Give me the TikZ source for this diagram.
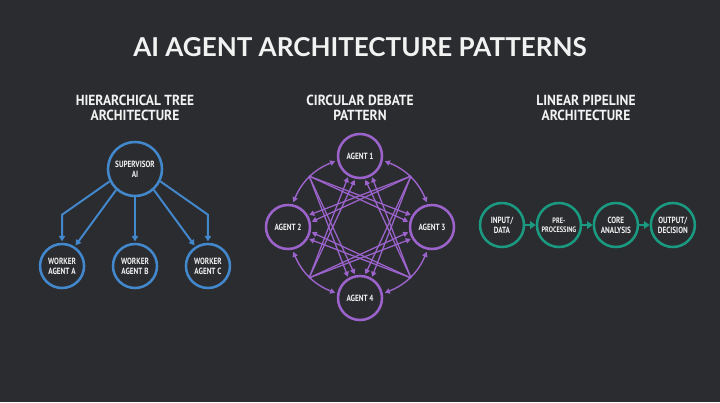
\documentclass[tikz,border=0pt]{standalone}
\usepackage{fontspec}
\setmainfont{PT Sans}
\newfontfamily\titlefont{Lato}
\newfontfamily\headfont[FakeStretch=0.92]{PT Sans}
\newfontfamily\labfont[FakeStretch=0.8]{PT Sans}
\usepackage{tikz}
\usetikzlibrary{positioning,arrows.meta,calc}
\definecolor{bg}{HTML}{2A2C2F}
\definecolor{treeblue}{HTML}{4388CC}
\definecolor{debpurple}{HTML}{9B63CB}
\definecolor{pipeteal}{HTML}{1B9A82}
\definecolor{txt}{HTML}{F2F2F2}
\tikzset{
  heading/.style={font=\headfont\bfseries\fontsize{10.4}{10.8}\selectfont, text=txt, align=center, inner sep=0pt},
  treenode/.style={circle, draw=treeblue, line width=1.8pt, minimum size=1.1cm, inner sep=0pt,
                   font=\labfont\bfseries\fontsize{6.4}{7.2}\selectfont, text=txt, align=center},
  agent/.style={circle, draw=debpurple, line width=1.8pt, minimum size=1.1cm, inner sep=0pt,
                font=\labfont\bfseries\fontsize{6.4}{7.2}\selectfont, text=txt, align=center},
  stage/.style={circle, draw=pipeteal, line width=1.8pt, minimum size=1.1cm, inner sep=0pt,
                font=\labfont\bfseries\fontsize{6.4}{7.2}\selectfont, text=txt, align=center},
  tarr/.style={-{Triangle[length=3.8pt, width=4.4pt]}, line width=1.4pt, draw=treeblue, shorten >=1pt},
  darr/.style={-{Triangle[length=3.6pt, width=3.8pt]}, line width=0.9pt, draw=debpurple, shorten >=0.8pt},
  darc/.style={{Triangle[length=3.6pt, width=3.8pt]}-{Triangle[length=3.6pt, width=3.8pt]},
               line width=1pt, draw=debpurple, shorten <=1.5pt, shorten >=1.5pt},
  parr/.style={-{Triangle[length=4pt, width=5.4pt]}, line width=2pt, draw=pipeteal},
}

\begin{document}
\begin{tikzpicture}[x=0.025cm, y=0.025cm]
  \fill[bg] (0,0) rectangle (720,-402);

  \node[font=\titlefont\bfseries\fontsize{18.5}{20}\selectfont, text=txt] (title) at (360,-47) {AI AGENT ARCHITECTURE PATTERNS};
  \node[heading] (htree) at (135,-108) {HIERARCHICAL TREE\\ARCHITECTURE};
  \node[heading] (hdeb) at (360,-108) {CIRCULAR DEBATE\\PATTERN};
  \node[heading] (hpipe) at (586,-108) {LINEAR PIPELINE\\ARCHITECTURE};

  % hierarchical tree
  \node[treenode, minimum size=1.35cm] (sup) at (135,-169) {SUPERVISOR\\AI};
  \node[treenode] (wb) at (135,-266) {WORKER\\AGENT B};
  \node[treenode, left=6.6mm of wb] (wa) {WORKER\\AGENT A};
  \node[treenode, right=6.6mm of wb] (wc) {WORKER\\AGENT C};
  \draw[tarr] (sup.206) -- ([yshift=7mm]wa.north) -- (wa.north);
  \draw[tarr] (sup.228) -- (wa.57);
  \draw[tarr] (sup.south) -- (wb.north);
  \draw[tarr] (sup.312) -- (wc.123);
  \draw[tarr] (sup.334) -- ([yshift=7mm]wc.north) -- (wc.north);

  % circular debate
  \coordinate (cen) at (360,-227);
  \node[agent] (ag1) at (360,-156) {AGENT 1};
  \node[agent] (ag2) at (288,-227) {AGENT 2};
  \node[agent] (ag3) at (432,-227) {AGENT 3};
  \node[agent] (ag4) at (360,-298) {AGENT 4};
  \foreach \a in {45,135,225,315}
    \coordinate (m\a) at ($(cen)+(\a:72)$);
  \foreach \a/\sa/\b/\sb in {ag3/101/ag1/349, ag1/191/ag2/79, ag2/281/ag4/169, ag4/11/ag3/259}
    \draw[darc] (\a.\sa) to[bend right=23] (\b.\sb);
  \foreach \s/\n/\e in {m225/ag1/240, m225/ag1/258, m315/ag1/282, m315/ag1/300,
                        m315/ag2/330, m315/ag2/348, m45/ag2/12, m45/ag2/30,
                        m135/ag3/150, m135/ag3/168, m225/ag3/192, m225/ag3/210,
                        m45/ag4/60, m45/ag4/78, m135/ag4/102, m135/ag4/120}
    \draw[darr] (\s) -- (\n.\e);

  % linear pipeline
  \node[stage] (inp) at (502,-225) {INPUT/\\DATA};
  \node[stage, right=2.6mm of inp, font=\labfont\bfseries\fontsize{5.6}{6.6}\selectfont] (pre) {PRE-\\PROCESSING};
  \node[stage, right=2.6mm of pre] (core) {CORE\\ANALYSIS};
  \node[stage, right=2.6mm of core] (out) {OUTPUT/\\DECISION};
  \draw[parr] (inp) -- (pre);
  \draw[parr] (pre) -- (core);
  \draw[parr] (core) -- (out);
\end{tikzpicture}
\end{document}
